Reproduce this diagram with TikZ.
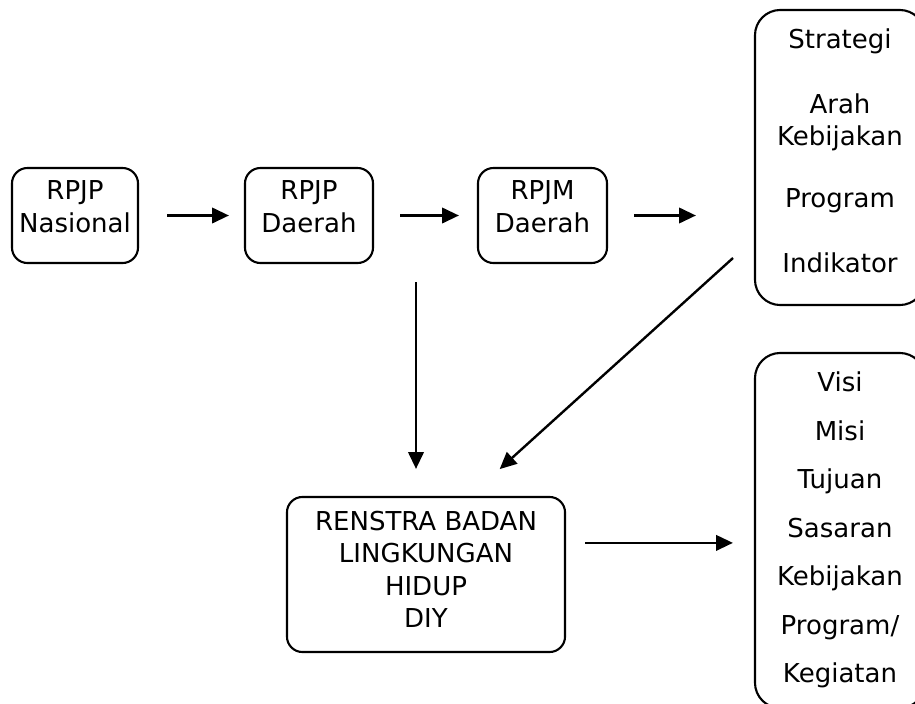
\documentclass[tikz,border=0pt]{standalone}
\usepackage{fontspec}
\setmainfont{DejaVu Sans}
\usetikzlibrary{arrows.meta}
\tikzstyle{plan}=[draw, line width=1.5pt, rounded corners=11pt, align=center, inner sep=0pt,
  font=\fontsize{18.5pt}{23pt}\selectfont, minimum height=2.375cm, text depth=0.45cm]
\tikzstyle{panel}=[plan, rounded corners=18pt, minimum width=4.25cm]
\tikzstyle{flow}=[line width=1.7pt, -{Triangle[length=12pt,width=11pt]}]
\newcommand{\plan}{\node[plan]}
\newcommand{\panel}{\node[panel]}

\begin{document}
\begin{tikzpicture}[x=0.025cm, y=-0.025cm]
\useasboundingbox (0,0) rectangle (915,704);
\clip (0,0) rectangle (915,704);
% top row
\plan (nas) at (75,215.5) [minimum width=3.15cm] {RPJP\\Nasional};
\plan (dae) at (309,215.5) [minimum width=3.2cm] {RPJP\\Daerah};
\plan (rpjm) at (542.5,215.5) [minimum width=3.225cm] {RPJM\\Daerah};
\panel (strat) at (840,157.5) [minimum height=7.375cm, text depth=0.35cm]
  {Strategi\\[0.8cm]Arah\\Kebijakan\\[0.75cm]Program\\[0.8cm]Indikator};
% bottom row
\plan (ren) at (426,574.5) [minimum width=6.95cm, minimum height=3.875cm, text depth=0.25cm]
  {RENSTRA BADAN\\LINGKUNGAN\\HIDUP\\DIY};
\panel (visi) at (840,530.5) [minimum height=8.875cm, text depth=0.15cm,
  font=\fontsize{18.5pt}{34.5pt}\selectfont]
  {Visi\\Misi\\Tujuan\\Sasaran\\Kebijakan\\Program/\\Kegiatan};
\coordinate (down) at (416,282);
\coordinate (diag) at (733,258);
\coordinate (out) at ([yshift=0.79cm]ren.east);
\draw[flow, shorten <=0.7cm, shorten >=0.375cm] (nas) -- (dae);
\draw[flow, shorten <=0.65cm, shorten >=0.45cm] (dae) -- (rpjm);
\draw[flow, shorten <=0.65cm, shorten >=1.45cm] (rpjm.east) -- (rpjm.east -| strat.west);
\draw[flow, shorten >=0.675cm] (down) -- (down |- ren.north);
\draw[flow, shorten >=1.0cm] (diag) -- ([xshift=1.1cm]ren.north);
\draw[flow, shorten <=0.475cm, shorten >=0.525cm] (out) -- (out -| visi.west);
\end{tikzpicture}
\end{document}
